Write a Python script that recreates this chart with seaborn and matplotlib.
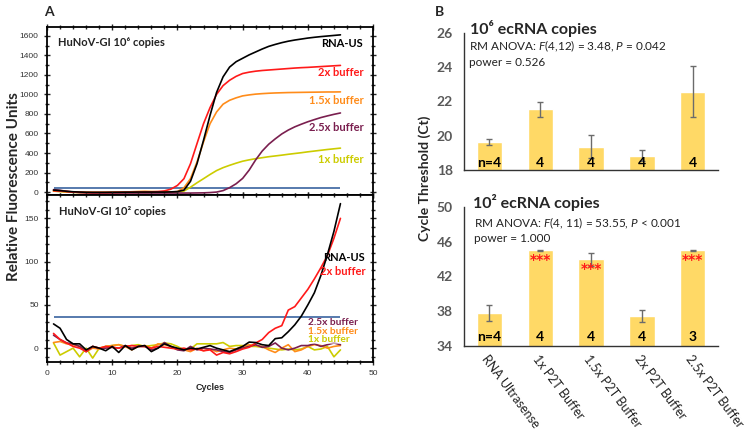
import matplotlib
matplotlib.use("Agg")
import matplotlib.pyplot as plt
import numpy as np
import pandas as pd
import seaborn as sns
from matplotlib.ticker import MultipleLocator

# ---------------- data: panel A (amplification curves) ----------------
cycles = list(range(1, 46))

top_rna_us = [20, 15, 8, 3, 0, -2, -3, -3, -3, -2,
              -2, -1, -1, 0, 0, 0, 0, 0, 2, 5,
              20, 110, 290, 530, 785, 1020, 1180, 1280, 1335, 1370,
              1405, 1435, 1465, 1492, 1512, 1530, 1545, 1557, 1567, 1577,
              1585, 1592, 1598, 1604, 1610]
top_2x = [15, 10, 5, 0, -3, -5, -5, -5, -5, -4,
          -3, -2, -2, -1, 0, 2, 5, 12, 30, 68,
          137, 290, 496, 700, 865, 1000, 1090, 1145, 1185, 1214,
          1228, 1238, 1245, 1250, 1255, 1260, 1265, 1270, 1274, 1277,
          1281, 1285, 1289, 1293, 1297]
top_1_5x = [10, 8, 5, 2, 0, -2, -3, -3, -2, -2,
            -1, 0, 3, 6, 8, 6, 4, 2, 0, 5,
            44, 137, 308, 513, 700, 820, 900, 940, 965, 985,
            995, 1003, 1008, 1012, 1015, 1017, 1019, 1020, 1021, 1022,
            1023, 1024, 1025, 1025, 1026]
top_2_5x = [25, 18, 8, 0, -5, -8, -10, -10, -10, -10,
            -10, -10, -10, -10, -10, -10, -10, -10, -10, -10,
            -10, -10, -9, -8, -5, 0, 15, 45, 85, 140,
            225, 330, 420, 490, 545, 595, 635, 668, 695, 720,
            742, 763, 780, 796, 810]
top_1x = [10, 5, 0, -3, -5, -5, -5, -5, -5, -5,
          -4, -4, -3, -3, -2, -2, -1, 0, 0, 2,
          10, 50, 95, 137, 180, 220, 250, 274, 296, 316,
          330, 342, 352, 362, 370, 378, 387, 395, 403, 412,
          420, 428, 436, 443, 450]
top_threshold = 38

bot_rna_us = [28, 23, 10, 5, 5, -2, 2, 0, -3, 2,
              -5, 3, -2, 2, 3, -4, 0, 5, 2, 0,
              -2, 0, -1, 1, 3, 0, -2, -4, -1, 2,
              7, 6.5, 4, 3, 11, 12, 19, 27, 37, 50,
              64, 84, 108, 135, 167]
bot_2x = [17, 10, 6, 2, 0, -4, 2, 0, 2, 1,
          0, 2, 3, 2, 2, 0, 2, 1, 0, -1,
          0, -2, -1, -3, -2, -8, -5, -6.5, -4, -1,
          1, 6, 10, 18, 23, 26, 44, 48, 58, 68,
          80, 93, 107, 127, 150]
bot_1_5x = [6.5, 7.7, 5, 4, 2, -4, 0, -1, 2, 3,
            4, 2, -2, 2, 3, 0, 5, 4, 2, -1,
            -2, -4, 0, -3, -1, -4, -2, 0, -1, 2,
            4, 3, 2, -2, -5, 0, 4, -4, -2, 2,
            4, 3, 0, 2, 3]
bot_2_5x = [15, 10, 6, 5, 2, -4, 2, 0, 0, 1,
            0, 3, 0, 2, 2, -2, 0, 6.5, 2, -2,
            -3, 2, -2, 0, -1, -2, -4, -5, -2, 0,
            2, 4, 1, 2, 6, 0, -2, 0, 3, 3,
            5, 2, 4, 6, 4]
bot_1x = [6, -8, -4, 0, -10, 0, -11.5, 0, 2, 3,
          4, 2, 3, 4, 2, 3, 4, 6, 5, 2,
          -2, -1, 5, 5, 5, 5, 6.5, 2, 3, 3,
          2, 2, 1, 0, -1, -2, -1, -2, -1, 2,
          -2, -1, 2, -10, -2]
bot_threshold = 36

series_names = ["1x buffer", "1.5x buffer", "2.5x buffer", "2x buffer", "RNA-US"]
series_colors = ["#cccc00", "#ff8c1a", "#7a1f4f", "#ff1a1a", "#000000"]
threshold_color = "#3a64a0"

# ---------------- data: panel B (Ct bars) ----------------
categories = ["RNA Ultrasense", "1x P2T Buffer", "1.5x P2T Buffer",
              "2x P2T Buffer", "2.5x P2T Buffer"]
ct_1e6 = [19.62, 21.55, 19.37, 18.84, 22.57]
err_1e6 = [0.18, 0.44, 0.66, 0.31, 1.48]
n_1e6 = ["n=4", "4", "4", "4", "4"]
ct_1e2 = [37.76, 45.0, 43.98, 37.42, 45.0]
err_1e2 = [0.92, 0.05, 0.75, 0.72, 0.05]
n_1e2 = ["n=4", "4", "4", "4", "3"]
sig_1e2 = ["", "***", "***", "", "***"]

# ---------------- style ----------------
sns.set_style("ticks")
plt.rcParams["font.family"] = ["Lato", "DejaVu Sans"]
plt.rcParams["mathtext.fontset"] = "custom"
plt.rcParams["mathtext.rm"] = "Lato"
plt.rcParams["mathtext.it"] = "Lato:italic"
plt.rcParams["mathtext.bf"] = "Lato:bold"

fig = plt.figure(figsize=(7.5, 4.34), dpi=100)

ax_top = fig.add_axes([0.0627, 0.5507, 0.4347, 0.387])
ax_bot = fig.add_axes([0.0627, 0.1659, 0.4347, 0.3848])


def long_frame(vals):
    rows = []
    for name, v in zip(series_names, vals):
        for c, y in zip(cycles, v):
            rows.append({"cycle": c, "rfu": y, "series": name})
    return pd.DataFrame(rows)


df_top = long_frame([top_1x, top_1_5x, top_2_5x, top_2x, top_rna_us])
df_bot = long_frame([bot_1x, bot_1_5x, bot_2_5x, bot_2x, bot_rna_us])
pal = dict(zip(series_names, series_colors))

for ax, df, thr in [(ax_top, df_top, top_threshold), (ax_bot, df_bot, bot_threshold)]:
    ax.hlines(thr, cycles[0], cycles[-1], color=threshold_color, lw=1.2, zorder=1)
    sns.lineplot(data=df, x="cycle", y="rfu", hue="series", hue_order=series_names,
                 palette=pal, legend=False, ax=ax, lw=1.2, zorder=2)
    ax.set_xlim(0, 50)
    ax.set_xlabel("")
    ax.set_ylabel("")
    ax.xaxis.set_major_locator(MultipleLocator(10))
    ax.xaxis.set_minor_locator(MultipleLocator(2))
    ax.tick_params(which="both", direction="inout", top=True, right=True,
                   labelsize=6, labelcolor="#333333", width=1)
    ax.tick_params(which="major", length=5)
    ax.tick_params(which="minor", length=3)
    for sp in ax.spines.values():
        sp.set_linewidth(1.3)
        sp.set_color("black")
    for lab in ax.get_xticklabels() + ax.get_yticklabels():
        lab.set_family(["Liberation Sans", "DejaVu Sans"])

ax_top.set_ylim(-30, 1690)
ax_top.yaxis.set_major_locator(MultipleLocator(200))
ax_top.yaxis.set_minor_locator(MultipleLocator(100))
ax_top.tick_params(labelbottom=False)

ax_bot.set_ylim(-16, 177)
ax_bot.yaxis.set_major_locator(MultipleLocator(50))
ax_bot.yaxis.set_minor_locator(MultipleLocator(10))
ax_bot.set_xlabel("Cycles", fontsize=6.5, fontweight="bold",
                  family=["Liberation Sans", "DejaVu Sans"], labelpad=4)

lab_font = dict(fontsize=8, fontweight="bold", family=["Lato", "DejaVu Sans"])
small_font = dict(fontsize=7.3, fontweight="bold", family=["Lato", "DejaVu Sans"])
ax_top.text(1.7, 1531, "HuNoV-GI 10⁶ copies", va="center", ha="left", color="#222222", **lab_font)
top_label_y = {"RNA-US": 1518, "2x buffer": 1224, "1.5x buffer": 933, "2.5x buffer": 660, "1x buffer": 335}
for name, col in zip(series_names, series_colors):
    ax_top.text(48.5, top_label_y[name], name, ha="right", va="center", color=col, **lab_font)

ax_bot.text(1.9, 158, "HuNoV-GI 10² copies", va="center", ha="left", color="#222222", **lab_font)
ax_bot.text(48.8, 105, "RNA-US", ha="right", va="center", color="#000000", **lab_font)
ax_bot.text(48.8, 89, "2x buffer", ha="right", va="center", color=pal["2x buffer"], **lab_font)
for name, yv in [("2.5x buffer", 30), ("1.5x buffer", 19.5), ("1x buffer", 9.5)]:
    ax_bot.text(40.1, yv, name, ha="left", va="center", color=pal[name], zorder=5,
                bbox=dict(facecolor="white", alpha=0.55, edgecolor="none", pad=0), **small_font)

fig.text(0.019, 0.569, "Relative Fluorescence Units", rotation=90, ha="center", va="center",
         fontsize=11, fontweight="bold")
fig.text(0.059, 0.972, "A", fontsize=10, fontweight="bold", ha="left", va="center")
fig.text(0.580, 0.972, "B", fontsize=10, fontweight="bold", ha="left", va="center")

# ---------------- panel B ----------------
axb1 = fig.add_axes([0.6187, 0.6083, 0.3387, 0.3157])
axb2 = fig.add_axes([0.6187, 0.2035, 0.3387, 0.3196])

bar_color = "#ffd966"
err_color = "#6b6b6b"

for ax, vals, errs, ns, ylim, ticks, ny in [
        (axb1, ct_1e6, err_1e6, n_1e6, (18, 26), [18, 20, 22, 24, 26], 18.42),
        (axb2, ct_1e2, err_1e2, n_1e2, (34, 50), [34, 38, 42, 46, 50], 35.0)]:
    sns.barplot(x=categories, y=vals, color=bar_color, saturation=1, width=0.5,
                errorbar=None, ax=ax, zorder=1)
    ax.errorbar(x=list(range(len(categories))), y=vals, yerr=errs, fmt="none",
                ecolor=err_color, elinewidth=1, capsize=2.5, capthick=1, zorder=3)
    ax.set_ylim(*ylim)
    ax.set_yticks(ticks)
    ax.set_xlim(-0.5, 4.5)
    sns.despine(ax=ax)
    ax.spines["left"].set_color("#333333")
    ax.spines["bottom"].set_color("#333333")
    ax.spines["left"].set_linewidth(1)
    ax.spines["bottom"].set_linewidth(1)
    ax.tick_params(axis="y", length=0, labelsize=10, labelcolor="#595959", pad=8)
    for lab in ax.get_yticklabels():
        lab.set_fontweight("bold")
    ax.tick_params(axis="x", length=0)
    for i, t in enumerate(ns):
        ax.text(i, ny, t, ha="center", va="center", fontsize=10, fontweight="bold",
                color="black", zorder=4)

axb1.set_xticklabels([])
axb2.set_xticks(range(len(categories)))
axb2.set_xticklabels(categories, rotation=-53, ha="left", va="top",
                     rotation_mode="anchor", fontsize=9, color="#222222")
axb2.tick_params(axis="x", pad=5)

for i, s in enumerate(sig_1e2):
    if s:
        axb2.text(i, ct_1e2[i] - 0.35, s, ha="center", va="top", fontsize=10,
                  fontweight="bold", color="#ff1a1a", zorder=4,
                  family=["DejaVu Sans"])

axb1.text(0.024, 1.03, "10⁶ ecRNA copies", transform=axb1.transAxes, ha="left", va="center",
          fontsize=11.5, fontweight="bold")
axb1.text(0.02, 0.905, r"RM ANOVA: $\mathit{F}$(4,12) = 3.48, $\mathit{P}$ = 0.042",
          transform=axb1.transAxes, ha="left", va="center", fontsize=8.5, color="#222222")
axb1.text(0.02, 0.785, "power = 0.526", transform=axb1.transAxes, ha="left", va="center",
          fontsize=8.5, color="#222222")

axb2.text(0.035, 1.03, "10² ecRNA copies", transform=axb2.transAxes, ha="left", va="center",
          fontsize=11.5, fontweight="bold")
axb2.text(0.04, 0.885, r"RM ANOVA: $\mathit{F}$(4, 11) = 53.55, $\mathit{P}$ < 0.001",
          transform=axb2.transAxes, ha="left", va="center", fontsize=8.5, color="#222222")
axb2.text(0.04, 0.77, "power = 1.000", transform=axb2.transAxes, ha="left", va="center",
          fontsize=8.5, color="#222222")

fig.text(0.566, 0.59, "Cycle Threshold (Ct)", rotation=90, ha="center", va="center",
         fontsize=10, fontweight="bold")

fig.savefig("out.png", dpi=100)
